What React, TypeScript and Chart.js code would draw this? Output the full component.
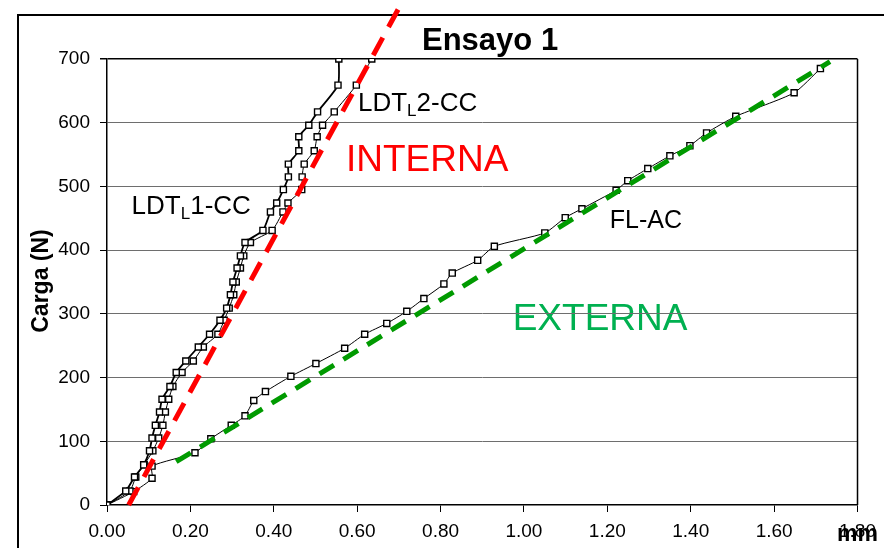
import React, { useEffect, useRef } from "react";
import { Chart, registerables } from "chart.js";

Chart.register(...registerables);

// ---- Data (mm vs N) ----
const loads = [0, 22, 44, 63, 85, 105, 125, 146, 166, 186, 208, 226, 248, 268, 290, 309, 330, 350, 372, 391, 412, 431, 460, 474, 495, 515, 535, 556, 578, 596, 617, 659, 700];
const ldt1X = [0, 0.045, 0.066, 0.088, 0.102, 0.108, 0.116, 0.126, 0.132, 0.151, 0.166, 0.189, 0.219, 0.246, 0.271, 0.287, 0.296, 0.302, 0.312, 0.32, 0.331, 0.374, 0.392, 0.407, 0.423, 0.435, 0.435, 0.46, 0.46, 0.484, 0.505, 0.554, 0.556];
const ldt2X = [0, 0.055, 0.069, 0.089, 0.11, 0.124, 0.134, 0.14, 0.148, 0.158, 0.18, 0.207, 0.231, 0.266, 0.281, 0.293, 0.304, 0.31, 0.32, 0.328, 0.344, 0.396, 0.422, 0.434, 0.467, 0.468, 0.473, 0.497, 0.504, 0.517, 0.545, 0.598, 0.635];

const flX = [0, 0.064, 0.108, 0.108, 0.211, 0.249, 0.298, 0.331, 0.352, 0.38, 0.441, 0.501, 0.57, 0.618, 0.671, 0.719, 0.76, 0.808, 0.828, 0.889, 0.929, 1.05, 1.099, 1.139, 1.221, 1.249, 1.297, 1.35, 1.398, 1.438, 1.508, 1.648, 1.711];
const flY = [0, 21, 42, 61, 82, 104, 125, 140, 164, 178, 202, 222, 246, 268, 285, 304, 324, 347, 364, 384, 406, 427, 451, 465, 494, 509, 528, 548, 564, 584, 610, 647, 685];

const internaX = [0.052, 0.705];
const internaY = [0, 786];
const externaX = [0.166, 1.734];
const externaY = [68, 696];

const X_MIN = 0;
const X_MAX = 1.8;
const X_STEP = 0.2;
const Y_MIN = 0;
const Y_MAX = 700;
const Y_STEP = 100;

const FONT = '"Liberation Sans", Arial, sans-serif';

const toPts = (xs: number[], ys: number[]) => xs.map((x, i) => ({ x, y: ys[i] }));

const decor = {
  id: "decor",
  beforeDraw(chart: any) {
    const ctx = chart.ctx;
    const xs = chart.scales.x;
    const ys = chart.scales.y;
    const px = (v: number) => xs.getPixelForValue(v);
    const py = (v: number) => ys.getPixelForValue(v);
    ctx.save();
    ctx.textBaseline = "alphabetic";
    ctx.textAlign = "left";

    // Title
    ctx.fillStyle = "#000";
    ctx.font = `bold 31px ${FONT}`;
    ctx.fillText("Ensayo 1", 422, 50);

    // Y axis title
    ctx.save();
    ctx.translate(42, 281);
    ctx.rotate(-Math.PI / 2);
    ctx.textAlign = "center";
    ctx.textBaseline = "middle";
    ctx.font = `bold 23px ${FONT}`;
    ctx.fillText("Carga (N)", 0, 0);
    ctx.restore();

    // INTERNA / EXTERNA
    ctx.font = `37px ${FONT}`;
    ctx.fillStyle = "#FF0000";
    ctx.fillText("INTERNA", px(0.573), py(525));
    ctx.fillStyle = "#00B050";
    ctx.fillText("EXTERNA", px(0.973), py(274));

    // Series labels
    ctx.fillStyle = "#000";
    const ldtLabel = (num: string, x: number, y: number) => {
      ctx.font = `26px ${FONT}`;
      ctx.fillText("LDT", x, y);
      let w = ctx.measureText("LDT").width;
      ctx.font = `17px ${FONT}`;
      ctx.fillText("L", x + w, y + 5);
      w += ctx.measureText("L").width;
      ctx.font = `26px ${FONT}`;
      ctx.fillText(num + "-CC", x + w, y);
    };
    ldtLabel("1", px(0.059), py(457));
    ldtLabel("2", px(0.602), py(618));
    ctx.font = `25px ${FONT}`;
    ctx.fillText("FL-AC", px(1.206), py(435));
    ctx.restore();
  },
  beforeDatasetsDraw(chart: any) {
    const ctx = chart.ctx;
    const a = chart.chartArea;
    ctx.save();
    ctx.strokeStyle = "#000";
    // plot right border
    ctx.lineWidth = 1.5;
    ctx.beginPath();
    ctx.moveTo(a.right, a.top);
    ctx.lineTo(a.right, a.bottom);
    ctx.stroke();
    // outer chart border
    ctx.lineWidth = 2;
    ctx.beginPath();
    ctx.moveTo(18, chart.height);
    ctx.lineTo(18, 15);
    ctx.lineTo(chart.width, 15);
    ctx.stroke();
    ctx.restore();
  },
  afterDraw(chart: any) {
    const ctx = chart.ctx;
    ctx.save();
    ctx.fillStyle = "#000";
    ctx.font = `bold 23px ${FONT}`;
    ctx.textBaseline = "alphabetic";
    ctx.textAlign = "left";
    ctx.fillText("mm", 837, 541);
    ctx.restore();
  },
};

export default function App() {
  const ref = useRef<HTMLCanvasElement | null>(null);

  useEffect(() => {
    if (!ref.current) return;
    const markerCommon = {
      pointStyle: "rect",
      pointRadius: 4.3,
      pointBorderWidth: 1.4,
      pointBackgroundColor: "#FFFFFF",
      pointBorderColor: "#000000",
      borderColor: "#000000",
      backgroundColor: "#FFFFFF",
      tension: 0.2,
      fill: false,
    };
    const chart = new Chart(ref.current, {
      type: "line",
      data: {
        datasets: [
          {
            label: "INTERNA",
            data: toPts(internaX, internaY),
            borderColor: "#FF0000",
            borderWidth: 5,
            borderDash: [20, 12],
            pointRadius: 0,
            fill: false,
            clip: false,
          } as any,
          {
            label: "EXTERNA",
            data: toPts(externaX, externaY),
            borderColor: "#009A00",
            borderWidth: 5,
            borderDash: [17, 11],
            pointRadius: 0,
            fill: false,
          },
          {
            label: "LDT_L1-CC",
            data: toPts(ldt1X, loads),
            borderWidth: 1.8,
            ...markerCommon,
          },
          {
            label: "LDT_L2-CC",
            data: toPts(ldt2X, loads),
            borderWidth: 1,
            ...markerCommon,
          },
          {
            label: "FL-AC",
            data: toPts(flX, flY),
            borderWidth: 1,
            ...markerCommon,
          },
        ],
      },
      options: {
        responsive: false,
        animation: false,
        events: [],
        layout: { padding: { top: 59, left: 0, right: 20, bottom: 0 } },
        plugins: {
          legend: { display: false },
          title: { display: false },
          tooltip: { enabled: false },
        },
        scales: {
          x: {
            type: "linear",
            min: X_MIN,
            max: X_MAX,
            afterFit: (s: any) => {
              s.height = 43;
            },
            ticks: {
              stepSize: X_STEP,
              color: "#000",
              padding: 8,
              maxRotation: 0,
              autoSkip: false,
              font: { family: FONT, size: 19 },
              callback: (v: any) => Number(v).toFixed(2),
            },
            grid: {
              drawOnChartArea: false,
              drawTicks: true,
              tickLength: 7,
              tickColor: "#000",
              tickWidth: 1,
            },
            border: { display: true, color: "#000", width: 1.5 },
          },
          y: {
            type: "linear",
            min: Y_MIN,
            max: Y_MAX,
            afterFit: (s: any) => {
              s.width = 107;
            },
            ticks: {
              stepSize: Y_STEP,
              color: "#000",
              padding: 10,
              font: { family: FONT, size: 19 },
            },
            grid: {
              drawOnChartArea: true,
              drawTicks: true,
              tickLength: 7,
              tickColor: "#000",
              color: (c: any) =>
                c.tick && c.tick.value === Y_MAX ? "#000000" : c.tick && c.tick.value === Y_MIN ? "rgba(0,0,0,0)" : "#6E6E6E",
              lineWidth: (c: any) => (c.tick && c.tick.value === Y_MAX ? 1.5 : 1),
            },
            border: { display: true, color: "#000", width: 1.5 },
          },
        },
      } as any,
      plugins: [decor],
    });
    return () => chart.destroy();
  }, []);

  return (
    <div style={{ position: "absolute", left: 0, top: 0, width: 884, height: 548, background: "#fff" }}>
      <canvas ref={ref} width={884} height={548} style={{ display: "block" }} />
    </div>
  );
}
